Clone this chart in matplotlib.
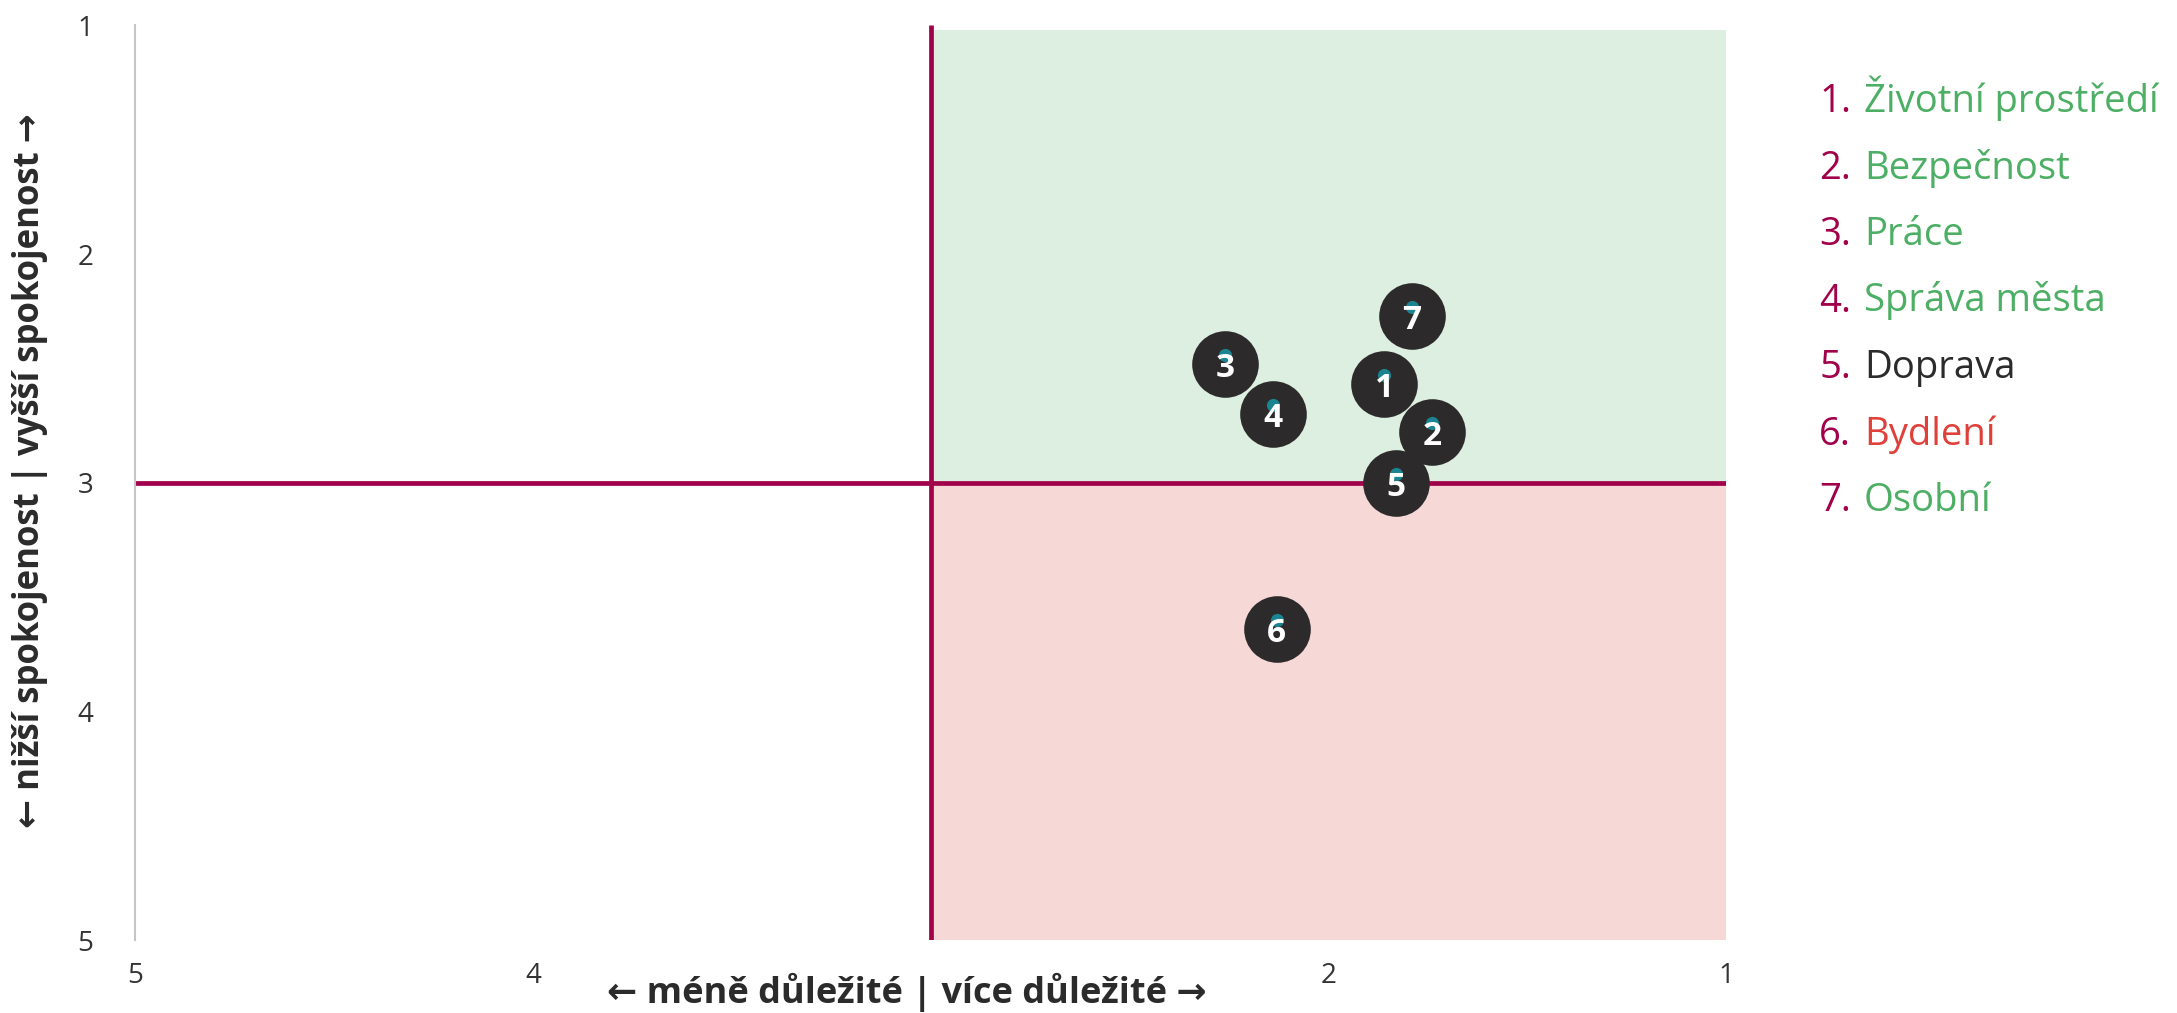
import matplotlib.pyplot as plt
from matplotlib.patches import Rectangle

plt.rcParams['font.family'] = ['Open Sans', 'DejaVu Sans']

# data
labels = ['Životní prostředí', 'Bezpečnost', 'Práce', 'Správa města',
          'Doprava', 'Bydlení', 'Osobní']
importance = [1.86, 1.74, 2.26, 2.14, 1.83, 2.13, 1.79]
satisfaction = [2.57, 2.78, 2.48, 2.70, 3.00, 3.64, 2.27]
name_colors = ['#4caf64', '#4caf64', '#4caf64', '#4caf64', '#2b2b2b', '#e0403a', '#4caf64']
xticks = [5, 4, 2, 1]
yticks = [1, 2, 3, 4, 5]

crimson = '#a1004a'
green_bg = '#dcefe0'
red_bg = '#f6d8d7'

fig = plt.figure(figsize=(21.77, 10.13), dpi=100)
ax = fig.add_axes([0.062, 0.072, 0.731, 0.903])
ax.set_xlim(5, 1)
ax.set_ylim(5, 1)

# quadrant backgrounds
ax.add_patch(Rectangle((3, 1.02), -2, 1.98, facecolor=green_bg, edgecolor='none', zorder=0))
ax.add_patch(Rectangle((3, 3), -2, 2, facecolor=red_bg, edgecolor='none', zorder=0))

# cross lines
ax.plot([5, 1], [3, 3], color=crimson, lw=3.4, zorder=2, solid_capstyle='butt')
ax.plot([3, 3], [1, 5], color=crimson, lw=3.4, zorder=2, solid_capstyle='butt')

# points
ax.scatter(importance, satisfaction, s=2300, color='#2d2a2b', zorder=3, linewidths=0)
ax.scatter(importance, [v - 0.04 for v in satisfaction], s=90, color='#1a8590',
           zorder=4, linewidths=0)
for i, (x, y) in enumerate(zip(importance, satisfaction)):
    ax.text(x, y + 0.02, str(i + 1), color='white', fontsize=24, fontweight='bold',
            ha='center', va='center', zorder=5)

# axes styling
for s in ['top', 'right', 'bottom']:
    ax.spines[s].set_visible(False)
ax.spines['left'].set_color('#c8c4c4')
ax.spines['left'].set_linewidth(1.5)
ax.set_xticks(xticks)
ax.set_yticks(yticks)
ax.tick_params(length=0, labelsize=20, labelcolor='#333333')
ax.tick_params(axis='x', pad=16)
ax.tick_params(axis='y', pad=30)

fig.text(0.4165, 0.02, '← méně důležité | více důležité →', ha='center', va='center',
         fontsize=26, fontweight='bold', color='#2b2b2b')
fig.text(0.014, 0.535, '← nižší spokojenost | vyšší spokojenost →', ha='center', va='center',
         rotation=90, fontsize=25, fontweight='bold', color='#2b2b2b')

# legend list
for i, (name, c) in enumerate(zip(labels, name_colors)):
    y = 1 - (112 + i * 66.5) / 1013
    fig.text(1819 / 2177, y, f'{i + 1}.', color=crimson, fontsize=27.5, va='baseline')
    fig.text(1864 / 2177, y, name, color=c, fontsize=27.5, va='baseline')

fig.savefig('out.png', dpi=100)
